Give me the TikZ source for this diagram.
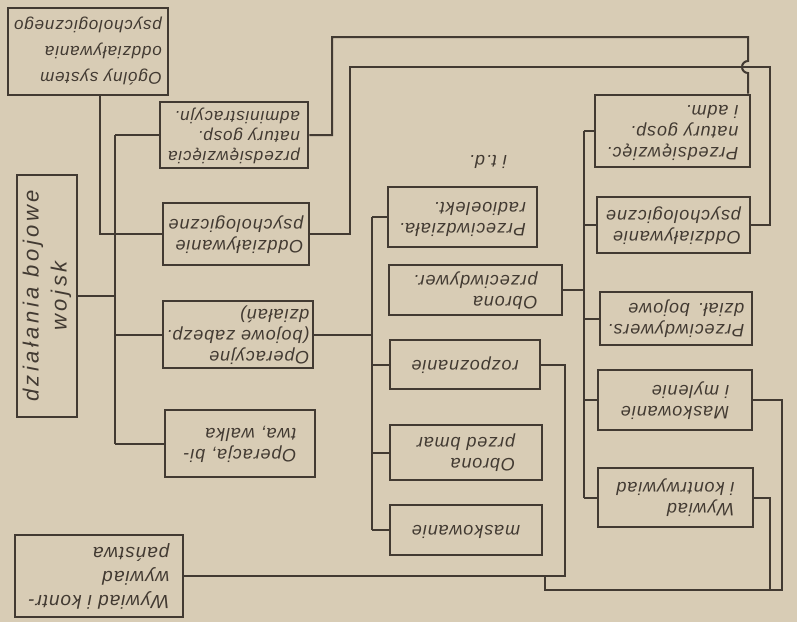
\documentclass[tikz,border=0pt]{standalone}
\usepackage{fontspec}
\setmainfont{Liberation Sans}[LetterSpace=5]
\usepackage{graphicx}
\definecolor{paper}{RGB}{216,204,181}
\definecolor{ink}{RGB}{66,58,50}
\newcommand{\flip}[1]{\rotatebox[origin=c]{180}{\begin{tabular}{@{}l@{}}#1\end{tabular}}}
\tikzset{
  box/.style={draw=ink, line width=2.6pt, inner sep=2pt, text=ink,
    font=\itshape\fontsize{18}{21}\selectfont},
  link/.style={draw=ink, line width=2pt},
}
\begin{document}
\begin{tikzpicture}[x=1pt, y=-1pt]
    \fill[paper] (0,0) rectangle (797,622);
    % left column
    \node[box, minimum width=160, minimum height=87, font=\itshape\fontsize{17}{26}\selectfont] (ogol) at (88,51.5) {\flip{Ogólny system\\oddziaływania\\psychologicznego}};
    \node[box, minimum width=60, minimum height=242, font=\itshape\fontsize{22}{28}\selectfont\addfontfeature{LetterSpace=16}] (dzial) at (47,296) {\rotatebox{90}{\begin{tabular}{@{}c@{}}działania bojowe\\wojsk\end{tabular}}};
    \node[box, minimum width=168, minimum height=82, font=\itshape\fontsize{19}{24}\selectfont] (wywL) at (99,576) {\flip{Wywiad i kontr-\\wywiad\\państwa}};
    % second column
    \node[box, minimum width=148, minimum height=66, font=\itshape\fontsize{17}{20}\selectfont] (przL) at (234,135) {\flip{przedsięwzięcia\\natury gosp.\\administracyjn.}};
    \node[box, minimum width=146, minimum height=62] (oddzL) at (236,234) {\flip{Oddziaływanie\\psychologiczne}};
    \node[box, minimum width=150, minimum height=65] (operL) at (238,334.5) {\flip{Operacyjne\\(bojowe zabezp.\\działań)}};
    \node[box, minimum width=150, minimum height=67] (walka) at (240,443.5) {\flip{Operacja, bi-\\twa, walka}};
    % third column
    \node[text=ink, font=\itshape\fontsize{18}{21}\selectfont] (itd) at (488,160) {\flip{i t.d.}};
    \node[box, minimum width=149, minimum height=60] (radio) at (462.5,217) {\flip{Przeciwdziała.\\radioelekt.}};
    \node[box, minimum width=173, minimum height=50] (oplot) at (475.5,290) {\flip{Obrona\\przeciwdywer.}};
    \node[box, minimum width=150, minimum height=49] (rozp) at (465,364.5) {\flip{rozpoznanie}};
    \node[box, minimum width=152, minimum height=55] (bmar) at (466,452.5) {\flip{Obrona\\przed bmar}};
    \node[box, minimum width=152, minimum height=50] (mask) at (466,530) {\flip{maskowanie}};
    % right column
    \node[box, minimum width=155, minimum height=72] (przR) at (672.5,131) {\flip{Przedsięwzięc.\\natury gosp.\\i adm.}};
    \node[box, minimum width=153, minimum height=56] (oddzR) at (673.5,225) {\flip{Oddziaływanie\\psychologiczne}};
    \node[box, minimum width=152, minimum height=53] (dywR) at (676,318.5) {\flip{Przeciwdywers.\\dział. bojowe}};
    \node[box, minimum width=154, minimum height=60] (maskR) at (675,400) {\flip{Maskowanie\\i mylenie}};
    \node[box, minimum width=155, minimum height=59] (wywR) at (675.5,497.5) {\flip{Wywiad\\i kontrwywiad}};
    % trunks and bends
    \coordinate (t2) at (115,0);
    \coordinate (t3) at (372,0);
    \coordinate (t4) at (584,0);
    \coordinate (bendA) at (100,234);
    \coordinate (top1) at (332,37);
    \coordinate (top2) at (350,67);
    \coordinate (hop) at (748,67);
    \coordinate (r2) at (770,0);
    \coordinate (r3) at (782,0);
    \coordinate (m3) at (565,0);
    \coordinate (low) at (545,590);
    % connectors
    \draw[link] (ogol.south -| bendA) -- (bendA) -- (oddzL.west |- bendA);
    \draw[link] (dzial.east) -- (dzial.east -| t2);
    \draw[link] (t2 |- przL.west) -- (t2 |- walka.west);
    \foreach \n in {przL,operL,walka}
        \draw[link] (t2 |- \n.west) -- (\n.west);
    \draw[link] (operL.east) -- (operL.east -| t3);
    \draw[link] (t3 |- radio.west) -- (t3 |- mask.west);
    \foreach \n in {radio,rozp,bmar,mask}
        \draw[link] (t3 |- \n.west) -- (\n.west);
    \draw[link] (oplot.east) -- (oplot.east -| t4);
    \draw[link] (t4 |- przR.west) -- (t4 |- wywR.west);
    \foreach \n in {przR,oddzR,dywR,maskR,wywR}
        \draw[link] (t4 |- \n.west) -- (\n.west);
    \draw[link] (przL.east) -- (przL.east -| top1) -- (top1) -- (top1 -| hop)
        -- ([yshift=6pt]hop) arc[start angle=90, end angle=270, radius=6pt] -- (hop |- przR.north);
    \draw[link] (oddzL.east) -- (oddzL.east -| top2) -- (top2) -- (top2 -| r2) -- (r2 |- oddzR.east) -- (oddzR.east);
    \draw[link] (wywL.east) -- (wywL.east -| m3) -- (m3 |- rozp.east) -- (rozp.east);
    \draw[link] (maskR.east) -- (maskR.east -| r3) -- (r3 |- low) -- (low) -- (low |- wywL.east);
    \draw[link] (wywR.east) -- (wywR.east -| r2) -- (r2 |- low);
\end{tikzpicture}
\end{document}
